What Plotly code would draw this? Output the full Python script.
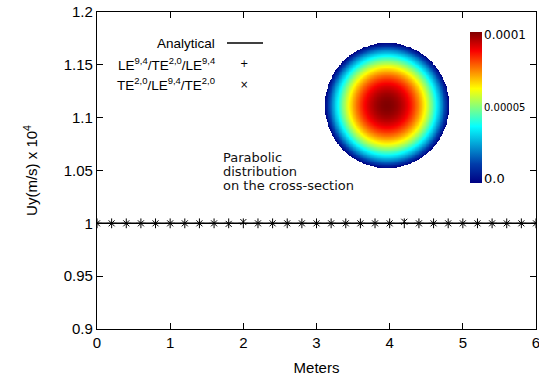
import numpy as np
import plotly.graph_objects as go

# ---- data ----
x_vals = [round(0.2 * i, 1) for i in range(31)]
analytical = [1.0] * 31
le_te_le = [1.0] * 31
te_le_te = [1.0, 1.0, 1.0, 1.0, 1.0, 1.0, 1.0, 1.0, 1.0, 0.9995, 1.0012, 1.0, 1.0, 1.0, 1.0,
            1.0, 1.0, 1.0, 1.0, 1.0, 1.0, 1.0015, 1.0, 1.0, 1.0, 1.0, 1.0, 1.0, 1.0, 1.0, 1.0]
x_ticks = [0, 1, 2, 3, 4, 5, 6]
y_ticks = [0.9, 0.95, 1.0, 1.05, 1.1, 1.15, 1.2]
y_tick_text = ["0.9", "0.95", "1", "1.05", "1.1", "1.15", "1.2"]
u_max = 1e-4          # peak velocity of the parabolic profile (inset)
cb_vals = [0.0, 5e-5, 1e-4]
cb_text = ["0.0", "0.00005", "0.0001"]

W, H = 539, 378
ML, MR, MT, MB = 97, 3, 12, 49
PW, PH = W - ML - MR, H - MT - MB

def px(xp):
    return (xp - ML) / PW

def py(yp):
    return 1 - (yp - MT) / PH

# inset disk (parabolic distribution on a circular cross-section)
n = 161
g = np.linspace(-1, 1, n)
XX, YY = np.meshgrid(g, g)
R2 = XX ** 2 + YY ** 2
Z = np.where(R2 <= 1.0, u_max * (1 - R2), np.nan)

jet = [[0, 'rgb(0,0,131)'], [0.125, 'rgb(0,60,170)'], [0.375, 'rgb(5,255,255)'],
       [0.625, 'rgb(255,255,0)'], [0.875, 'rgb(250,0,0)'], [1, 'rgb(128,0,0)']]

fig = go.Figure()
fig.add_trace(go.Scatter(x=x_vals, y=analytical, mode='lines',
                         line=dict(color='black', width=1.5), showlegend=False))
fig.add_trace(go.Scatter(x=x_vals, y=le_te_le, mode='markers',
                         marker=dict(symbol='cross-thin', size=7, color='black',
                                     line=dict(color='black', width=1)), showlegend=False))
fig.add_trace(go.Scatter(x=x_vals, y=te_le_te, mode='markers',
                         marker=dict(symbol='x-thin', size=6, color='black',
                                     line=dict(color='black', width=1)), showlegend=False))
fig.add_trace(go.Heatmap(z=Z, x=g, y=g, xaxis='x2', yaxis='y2', colorscale=jet,
                         zmin=0, zmax=u_max, hoverinfo='skip',
                         colorbar=dict(x=px(470), xanchor='left', xref='paper',
                                       thickness=12, thicknessmode='pixels',
                                       lenmode='pixels', len=151,
                                       y=py(107.5), yanchor='middle', ypad=0, xpad=0,
                                       outlinewidth=0, showticklabels=False, ticks='',
                                       tickvals=cb_vals)))

axis_common = dict(showgrid=False, zeroline=False, showline=True, linecolor='black',
                   linewidth=1.3, mirror='ticks', ticks='inside', ticklen=6,
                   tickcolor='black', tickwidth=1, automargin=False,
                   ticklabeloverflow='allow',
                   tickfont=dict(family='Liberation Sans, Arial', size=15, color='black'))

fig.update_layout(
    width=W, height=H,
    margin=dict(l=ML, r=MR, t=MT, b=MB, autoexpand=False),
    paper_bgcolor='white', plot_bgcolor='white',
    xaxis=dict(range=[0, 6], tickvals=x_ticks, **axis_common,
               title=dict(text='Meters', font=dict(family='Liberation Sans, Arial', size=15, color='black'),
                          standoff=12)),
    yaxis=dict(range=[0.9, 1.2], tickvals=y_ticks, ticktext=y_tick_text, **axis_common,
               title=dict(text='Uy(m/s) x 10<sup>4</sup>',
                          font=dict(family='Liberation Sans, Arial', size=15, color='black'),
                          standoff=22)),
    xaxis2=dict(domain=[px(325), px(449)], range=[-1, 1], visible=False, anchor='y2'),
    yaxis2=dict(domain=[py(168), py(43)], range=[-1, 1], visible=False, anchor='x2'),
    showlegend=False,
)

ann_font = dict(family='Liberation Sans, Arial', size=13.5, color='black')
legend_rows = [
    ('Analytical', 43, None),
    ('LE<sup>9,4</sup>/TE<sup>2,0</sup>/LE<sup>9,4</sup>', 64, '+'),
    ('TE<sup>2,0</sup>/LE<sup>9,4</sup>/TE<sup>2,0</sup>', 84, '×'),
]
for txt, yy, sym in legend_rows:
    fig.add_annotation(x=px(217), y=py(yy), xref='paper', yref='paper', text=txt,
                       showarrow=False, xanchor='right', yanchor='middle', font=ann_font)
    if sym:
        fig.add_annotation(x=px(244), y=py(yy), xref='paper', yref='paper', text=sym,
                           showarrow=False, xanchor='center', yanchor='middle',
                           font=dict(family='DejaVu Sans', size=10, color='black'))
fig.add_shape(type='line', xref='paper', yref='paper', x0=px(227), x1=px(263),
              y0=py(43), y1=py(43), line=dict(color='black', width=1.3))

para_font = dict(family='DejaVu Sans, Verdana', size=13, color='#111111')
for txt, yy in [('Parabolic', 157), ('distribution', 171), ('on the cross-section', 185)]:
    fig.add_annotation(x=px(221), y=py(yy), xref='paper', yref='paper', text=txt,
                       showarrow=False, xanchor='left', yanchor='middle', font=para_font)

for txt, yy, fs in [('0.0001', 35, 12), ('0.00005', 107, 10), ('0.0', 178, 13)]:
    fig.add_annotation(x=px(482), y=py(yy), xref='paper', yref='paper', text=txt,
                       showarrow=False, xanchor='left', yanchor='middle',
                       font=dict(family='DejaVu Sans, Verdana', size=fs, color='black'))

fig.write_html('out.html')
